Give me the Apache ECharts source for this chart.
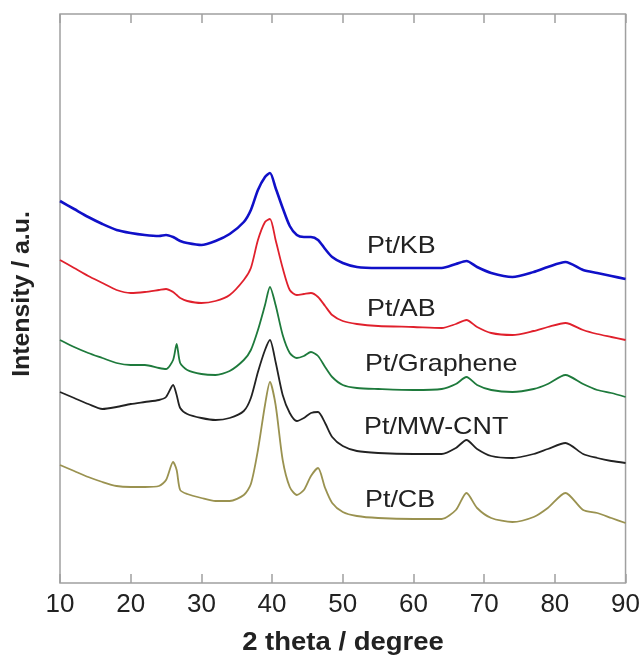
<!DOCTYPE html>
<html>
<head>
<meta charset="utf-8">
<script src="https://cdn.jsdelivr.net/npm/echarts@6/dist/echarts.min.js"></script>
<style>
html,body{margin:0;padding:0;background:#fff;}
#chart{width:643px;height:660px;}
</style>
</head>
<body>
<div id="chart"></div>
<script>
// 2 theta grid (degree)
var theta = [10,12,14,16,18,20,22,24,25,26,26.5,27,28,30,32,34,36,37,38,39,39.7,40.5,41.5,42.5,43.5,44.5,45.5,46.5,47.5,48.5,50,52,55,60,64,66,67.5,69,71,74,77,79,81.5,84,86,88,90];

// intensities (a.u., offset stacked as in the figure)
var ptKB = [382,374,366,359,353,350,348,347,348,346,344,342,340,338,342,349,361,373,393,406,410,395,375,357,348,346,346,343,334,326,320,316,315,315,315,319,322,316,310,306,311,316,321,313,310,307,304];
var ptAB = [323,315,307,300,293,290,291,293,294,291,288,285,282,280,282,288,303,315,343,361,364,343,315,293,288,289,290,286,277,268,262,259,257,256,255,259,263,256,250,248,252,256,260,253,249,246,243];
var ptGraphene = [243,236,230,225,220,218,218,215,214,223,239,220,213,209,208,212,223,233,253,278,296,278,248,230,225,227,231,227,216,206,198,195,194,193,194,199,206,198,193,191,194,199,208,199,193,190,186];
var ptMWCNT = [191,185,179,174,176,179,181,183,186,198,188,175,169,165,163,165,172,185,211,233,243,221,188,170,162,165,170,171,160,146,137,132,130,129,129,135,143,134,127,125,129,134,140,129,125,122,120];
var ptCB = [118,112,106,101,97,96,96,97,103,121,113,93,89,85,82,82,88,99,133,178,201,178,123,96,88,93,107,115,95,80,71,67,65,64,64,73,90,75,65,61,66,75,90,73,70,65,60];

var seriesNames = ['Pt/KB','Pt/AB','Pt/Graphene','Pt/MW-CNT','Pt/CB'];
var seriesData = [ptKB, ptAB, ptGraphene, ptMWCNT, ptCB];
var seriesColors = ['#1010c8','#e0202c','#1e7a3c','#222222','#9a9250'];
var xTicks = [10,20,30,40,50,60,70,80,90];

function pairs(ys){ return theta.map(function(t,i){ return [t, ys[i]]; }); }

var chart = echarts.init(document.getElementById('chart'), null, {renderer:'canvas'});
var font = '"Liberation Sans", Arial, sans-serif';

var series = seriesNames.map(function(n,i){
  return {
    name: n, type: 'line', data: pairs(seriesData[i]),
    showSymbol: false, smooth: 0.25,
    lineStyle: {color: seriesColors[i], width: i===0 ? 2.6 : 1.8},
    xAxisIndex: 0, yAxisIndex: 0, z: 5 - i
  };
});

var labelPos = [[367,246],[367,309],[365,364],[364,427],[365,500]];

var graphics = seriesNames.map(function(n,i){
  return {type: 'text', x: labelPos[i][0], y: labelPos[i][1], scaleX: 1.12,
    style: {text: n, fill: '#222', font: '24px ' + font, align: 'left', verticalAlign: 'middle'}};
});
graphics.push({type: 'text', x: 343, y: 643, scaleX: 1.1,
  style: {text: '2 theta / degree', fill: '#222', font: 'bold 25px ' + font, align: 'center', verticalAlign: 'middle'}});
graphics.push({type: 'text', x: 23, y: 294, rotation: Math.PI/2, scaleX: 1.08,
  style: {text: 'Intensity / a.u.', fill: '#222', font: 'bold 23px ' + font, align: 'center', verticalAlign: 'middle'}});

chart.setOption({
  animation: false,
  backgroundColor: '#fff',
  grid: {left: 60, right: 16, top: 14, bottom: 77, show: true, borderColor: '#a0a0a0', borderWidth: 1.5, backgroundColor: 'transparent'},
  xAxis: [{
    type: 'value', min: 10, max: 90, interval: 10, position: 'bottom',
    axisLine: {show: false},
    axisTick: {show: true, inside: true, length: 9, lineStyle: {color: '#a0a0a0', width: 1.5}},
    splitLine: {show: false},
    axisLabel: {color: '#222', fontSize: 26, fontFamily: font, margin: 9,
      formatter: function(v){ return xTicks.indexOf(v) >= 0 ? String(v) : ''; }}
  },{
    type: 'value', min: 10, max: 90, interval: 10, position: 'top',
    axisLine: {show: false},
    axisTick: {show: true, inside: true, length: 9, lineStyle: {color: '#a0a0a0', width: 1.5}},
    axisLabel: {show: false}, splitLine: {show: false}
  }],
  yAxis: [{
    type: 'value', min: 0, max: 569,
    axisLine: {show: false}, axisTick: {show: false}, axisLabel: {show: false}, splitLine: {show: false}
  }],
  series: series,
  graphic: graphics
});
</script>
</body>
</html>
